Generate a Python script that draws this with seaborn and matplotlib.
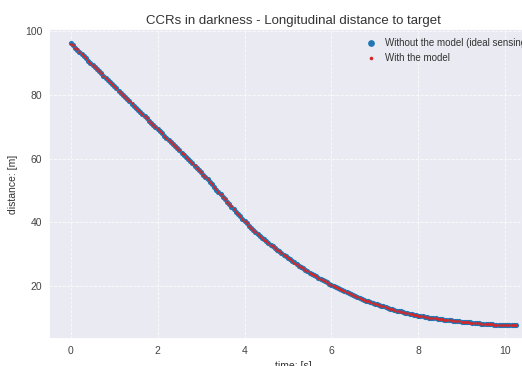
import numpy as np
import pandas as pd
import matplotlib
matplotlib.use("Agg")
import matplotlib.pyplot as plt
import seaborn as sns

time_s = [0.00, 0.05, 0.10, 0.15, 0.20, 0.25, 0.30, 0.35, 0.40, 0.45,
          0.50, 0.55, 0.60, 0.65, 0.70, 0.75, 0.80, 0.85, 0.90, 0.95,
          1.00, 1.05, 1.10, 1.15, 1.20, 1.25, 1.30, 1.35, 1.40, 1.45,
          1.50, 1.55, 1.60, 1.65, 1.70, 1.75, 1.80, 1.85, 1.90, 1.95,
          2.00, 2.05, 2.10, 2.15, 2.20, 2.25, 2.30, 2.35, 2.40, 2.45,
          2.50, 2.55, 2.60, 2.65, 2.70, 2.75, 2.80, 2.85, 2.90, 2.95,
          3.00, 3.05, 3.10, 3.15, 3.20, 3.25, 3.30, 3.35, 3.40, 3.45,
          3.50, 3.55, 3.60, 3.65, 3.70, 3.75, 3.80, 3.85, 3.90, 3.95,
          4.00, 4.05, 4.10, 4.15, 4.20, 4.25, 4.30, 4.35, 4.40, 4.45,
          4.50, 4.55, 4.60, 4.65, 4.70, 4.75, 4.80, 4.85, 4.90, 4.95,
          5.00, 5.05, 5.10, 5.15, 5.20, 5.25, 5.30, 5.35, 5.40, 5.45,
          5.50, 5.55, 5.60, 5.65, 5.70, 5.75, 5.80, 5.85, 5.90, 5.95,
          6.00, 6.05, 6.10, 6.15, 6.20, 6.25, 6.30, 6.35, 6.40, 6.45,
          6.50, 6.55, 6.60, 6.65, 6.70, 6.75, 6.80, 6.85, 6.90, 6.95,
          7.00, 7.05, 7.10, 7.15, 7.20, 7.25, 7.30, 7.35, 7.40, 7.45,
          7.50, 7.55, 7.60, 7.65, 7.70, 7.75, 7.80, 7.85, 7.90, 7.95,
          8.00, 8.05, 8.10, 8.15, 8.20, 8.25, 8.30, 8.35, 8.40, 8.45,
          8.50, 8.55, 8.60, 8.65, 8.70, 8.75, 8.80, 8.85, 8.90, 8.95,
          9.00, 9.05, 9.10, 9.15, 9.20, 9.25, 9.30, 9.35, 9.40, 9.45,
          9.50, 9.55, 9.60, 9.65, 9.70, 9.75, 9.80, 9.85, 9.90, 9.95,
          10.00, 10.05, 10.10, 10.15, 10.20, 10.25]

dist_ideal = [96.1, 95.5, 94.8, 94.1, 93.4, 92.8, 92.1, 91.4, 90.7, 90.1,
              89.4, 88.7, 88.0, 87.4, 86.7, 86.0, 85.3, 84.7, 84.0, 83.3,
              82.6, 82.0, 81.3, 80.6, 79.9, 79.3, 78.6, 77.9, 77.2, 76.6,
              75.9, 75.3, 74.6, 73.9, 73.2, 72.6, 71.9, 71.2, 70.5, 69.9,
              69.2, 68.5, 67.9, 67.2, 66.6, 65.9, 65.2, 64.6, 63.9, 63.3,
              62.6, 61.9, 61.2, 60.6, 59.9, 59.2, 58.5, 57.8, 57.2, 56.5,
              55.8, 55.0, 54.2, 53.5, 52.7, 51.9, 51.1, 50.3, 49.6, 48.8,
              48.0, 47.2, 46.5, 45.7, 44.9, 44.2, 43.4, 42.7, 41.9, 41.2,
              40.4, 39.7, 39.0, 38.3, 37.6, 37.0, 36.4, 35.8, 35.2, 34.7,
              34.2, 33.6, 33.0, 32.5, 32.0, 31.4, 30.9, 30.4, 29.9, 29.4,
              28.9, 28.4, 27.9, 27.5, 27.0, 26.5, 26.1, 25.6, 25.2, 24.7,
              24.3, 23.9, 23.5, 23.1, 22.7, 22.3, 21.9, 21.6, 21.2, 20.8,
              20.5, 20.1, 19.8, 19.4, 19.1, 18.8, 18.5, 18.1, 17.8, 17.5,
              17.2, 16.9, 16.6, 16.3, 16.1, 15.8, 15.5, 15.3, 15.0, 14.8,
              14.5, 14.3, 14.1, 13.9, 13.7, 13.4, 13.2, 13.0, 12.8, 12.6,
              12.4, 12.2, 12.1, 11.9, 11.7, 11.5, 11.4, 11.2, 11.1, 10.9,
              10.8, 10.7, 10.6, 10.5, 10.4, 10.2, 10.1, 10.0, 9.9, 9.8,
              9.7, 9.6, 9.5, 9.4, 9.4, 9.3, 9.2, 9.1, 9.1, 9.0,
              8.9, 8.8, 8.8, 8.7, 8.7, 8.6, 8.5, 8.5, 8.4, 8.3,
              8.3, 8.2, 8.2, 8.1, 8.1, 8.0, 8.0, 8.0, 8.0, 7.9,
              7.9, 7.9, 7.9, 7.8, 7.8, 7.8]

dist_model = [96.0, 95.5, 94.8, 94.2, 93.4, 92.8, 92.0, 91.4, 90.7, 90.0,
              89.4, 88.7, 88.1, 87.4, 86.7, 86.0, 85.4, 84.7, 84.0, 83.3,
              82.7, 82.0, 81.3, 80.6, 80.0, 79.3, 78.6, 77.9, 77.3, 76.6,
              75.9, 75.2, 74.6, 73.9, 73.3, 72.6, 71.9, 71.2, 70.6, 69.9,
              69.2, 68.6, 67.9, 67.2, 66.5, 65.9, 65.3, 64.6, 63.9, 63.3,
              62.6, 61.9, 61.3, 60.6, 59.9, 59.2, 58.5, 57.9, 57.2, 56.5,
              55.8, 55.0, 54.3, 53.5, 52.7, 51.9, 51.1, 50.4, 49.6, 48.8,
              48.0, 47.2, 46.5, 45.7, 45.0, 44.2, 43.4, 42.6, 41.9, 41.2,
              40.4, 39.7, 39.0, 38.3, 37.6, 37.0, 36.4, 35.8, 35.2, 34.6,
              34.2, 33.6, 33.0, 32.5, 32.0, 31.4, 30.9, 30.4, 29.9, 29.4,
              28.9, 28.4, 27.9, 27.4, 27.0, 26.5, 26.1, 25.6, 25.2, 24.7,
              24.3, 23.9, 23.5, 23.1, 22.7, 22.3, 21.9, 21.5, 21.2, 20.8,
              20.5, 20.1, 19.8, 19.4, 19.1, 18.8, 18.4, 18.1, 17.8, 17.5,
              17.2, 16.9, 16.6, 16.3, 16.0, 15.8, 15.5, 15.3, 15.0, 14.7,
              14.5, 14.3, 14.1, 13.8, 13.7, 13.4, 13.2, 13.0, 12.8, 12.6,
              12.4, 12.2, 12.0, 11.9, 11.7, 11.5, 11.4, 11.2, 11.1, 10.9,
              10.8, 10.7, 10.6, 10.5, 10.3, 10.2, 10.1, 10.0, 9.9, 9.8,
              9.7, 9.6, 9.5, 9.4, 9.4, 9.3, 9.2, 9.1, 9.0, 9.0,
              8.9, 8.8, 8.8, 8.7, 8.6, 8.6, 8.5, 8.5, 8.4, 8.3,
              8.3, 8.2, 8.2, 8.1, 8.1, 8.0, 8.0, 8.0, 7.9, 7.9,
              7.9, 7.9, 7.8, 7.8, 7.8, 7.8]

label_ideal = "Without the model (ideal sensing)"
label_model = "With the model"

sns.set_theme(style="darkgrid",
              rc={"grid.linestyle": "--", "grid.linewidth": 0.6,
                  "xtick.major.size": 0, "ytick.major.size": 0})
plt.rcParams["font.family"] = ["Liberation Sans", "DejaVu Sans"]

fig = plt.figure(figsize=(5.22, 3.66), dpi=100)
ax = fig.add_axes([0.093, 0.073, 0.938, 0.847])

df_ideal = pd.DataFrame({"t": time_s, "d": dist_ideal})
df_model = pd.DataFrame({"t": time_s, "d": dist_model})

sns.scatterplot(data=df_ideal, x="t", y="d", ax=ax, color="#1f77b4", s=14,
                marker="o", linewidth=0, label=label_ideal)
sns.scatterplot(data=df_model, x="t", y="d", ax=ax, color="#d62728", s=4,
                marker="o", linewidth=0, label=label_model)

ax.grid(True, color="white", alpha=0.8)
ax.set_yticks([20, 40, 60, 80, 100])
ax.set_xticks([0, 2, 4, 6, 8, 10])
ax.tick_params(labelsize=7.5, colors="#444444", pad=4.5)
ax.set_xlabel("time: [s]", fontsize=7.5, color="#333333", labelpad=4)
ax.set_ylabel("distance: [m]", fontsize=7.5, color="#333333", labelpad=5)
ax.set_title("CCRs in darkness - Longitudinal distance to target", fontsize=9.5,
             color="#333333", pad=4)

leg = ax.legend(loc="upper right", fontsize=7, frameon=False, markerscale=1.3,
                handlelength=1.2, handletextpad=0.8)
for txt in leg.get_texts():
    txt.set_color("#333333")

fig.savefig("out.png", dpi=100)
